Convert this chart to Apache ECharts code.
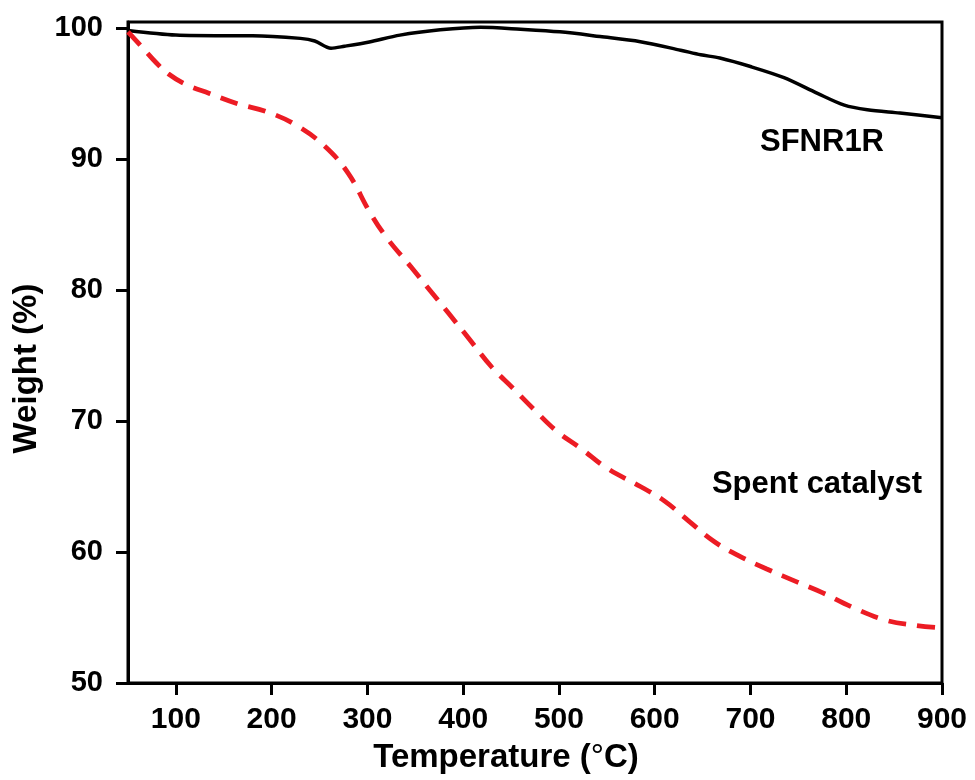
<!DOCTYPE html>
<html>
<head>
<meta charset="utf-8">
<title>TGA</title>
<script src="https://cdn.jsdelivr.net/npm/echarts@6/dist/echarts.min.js"></script>
<style>
  html, body { margin: 0; padding: 0; background: #fff; }
  #main { width: 975px; height: 780px; }
</style>
</head>
<body>
<div id="main"></div>
<script>
  // tick labels
  var xTicks = [100, 200, 300, 400, 500, 600, 700, 800, 900];
  var yTicks = [50, 60, 70, 80, 90, 100];

  // SFNR1R (black solid)
  var sfnrTemp   = [50, 100, 150, 180, 230, 245, 262, 276, 302, 334, 376, 418, 460, 501, 543, 585, 627, 648, 668, 700, 735, 770, 798, 822, 856, 900];
  var sfnrWeight = [99.8, 99.45, 99.4, 99.4, 99.2, 99.0, 98.45, 98.6, 98.93, 99.45, 99.85, 100.05, 99.9, 99.7, 99.34, 98.95, 98.3, 97.95, 97.7, 97.05, 96.2, 95.0, 94.1, 93.75, 93.5, 93.15];

  // Spent catalyst (red dashed)
  var spentTemp   = [50, 65, 80, 92, 110, 135, 165, 195, 225, 255, 280, 302, 320, 345, 365, 385, 408, 430, 452, 475, 498, 523, 550, 585, 610, 635, 662, 688, 717, 749, 775, 806, 841, 872, 900];
  var spentWeight = [99.7, 98.5, 97.3, 96.5, 95.7, 95.0, 94.2, 93.6, 92.6, 91.0, 88.9, 86.0, 84.0, 81.8, 80.0, 78.2, 76.1, 74.1, 72.5, 70.8, 69.2, 67.9, 66.4, 65.0, 63.9, 62.4, 60.8, 59.7, 58.7, 57.7, 56.9, 55.8, 54.8, 54.4, 54.2];

  function pairs(xs, ys) {
    var out = [];
    for (var i = 0; i < xs.length; i++) out.push([xs[i], ys[i]]);
    return out;
  }

  var font = "'Liberation Sans', Arial, sans-serif";
  var chart = echarts.init(document.getElementById('main'));

  chart.setOption({
    backgroundColor: '#fff',
    animation: false,
    grid: {
      left: 128, right: 33, top: 22, bottom: 97,
      show: true, borderColor: '#000', borderWidth: 3
    },
    xAxis: {
      type: 'value',
      min: 50, max: 900,
      name: '{b|Temperature (}{d|°}{b|C)}',
      nameLocation: 'middle',
      nameGap: 58,
      nameTextStyle: {
        padding: [0, 58, 0, 0],
        rich: {
          b: { fontFamily: font, fontWeight: 'bold', fontSize: 33, color: '#000' },
          d: { fontFamily: font, fontWeight: 'normal', fontSize: 33, color: '#000' }
        }
      },
      axisLine: { show: true, lineStyle: { color: '#000', width: 3 } },
      axisTick: { show: true, inside: false, length: 12, customValues: xTicks, lineStyle: { color: '#000', width: 3 } },
      axisLabel: { customValues: xTicks, margin: 22, color: '#000', fontFamily: font, fontWeight: 'bold', fontSize: 30 },
      splitLine: { show: false }
    },
    yAxis: {
      type: 'value',
      min: 50, max: 100.45,
      name: 'Weight (%)',
      nameLocation: 'middle',
      nameGap: 76,
      nameTextStyle: {
        fontFamily: font, fontWeight: 'bold', fontSize: 33, color: '#000',
        padding: [0, 32, 0, 0]
      },
      axisLine: { show: true, lineStyle: { color: '#000', width: 3 } },
      axisTick: { show: true, inside: false, length: 12, customValues: yTicks, lineStyle: { color: '#000', width: 3 } },
      axisLabel: { customValues: yTicks, margin: 25, color: '#000', fontFamily: font, fontWeight: 'bold', fontSize: 29 },
      splitLine: { show: false }
    },
    series: [
      {
        name: 'SFNR1R',
        type: 'line',
        data: pairs(sfnrTemp, sfnrWeight),
        smooth: 0.3,
        showSymbol: false,
        lineStyle: { color: '#000', width: 3.5 }
      },
      {
        name: 'Spent catalyst',
        type: 'line',
        data: pairs(spentTemp, spentWeight),
        smooth: 0.4,
        showSymbol: false,
        lineStyle: { color: '#ec1c24', width: 4.8, type: [18, 11] }
      }
    ],
    graphic: [
      {
        type: 'text', x: 822, y: 142,
        style: { text: 'SFNR1R', fill: '#000', font: 'bold 31px ' + font, textAlign: 'center', textVerticalAlign: 'middle' }
      },
      {
        type: 'text', x: 817, y: 484,
        style: { text: 'Spent catalyst', fill: '#000', font: 'bold 31px ' + font, textAlign: 'center', textVerticalAlign: 'middle' }
      }
    ]
  });
</script>
</body>
</html>
